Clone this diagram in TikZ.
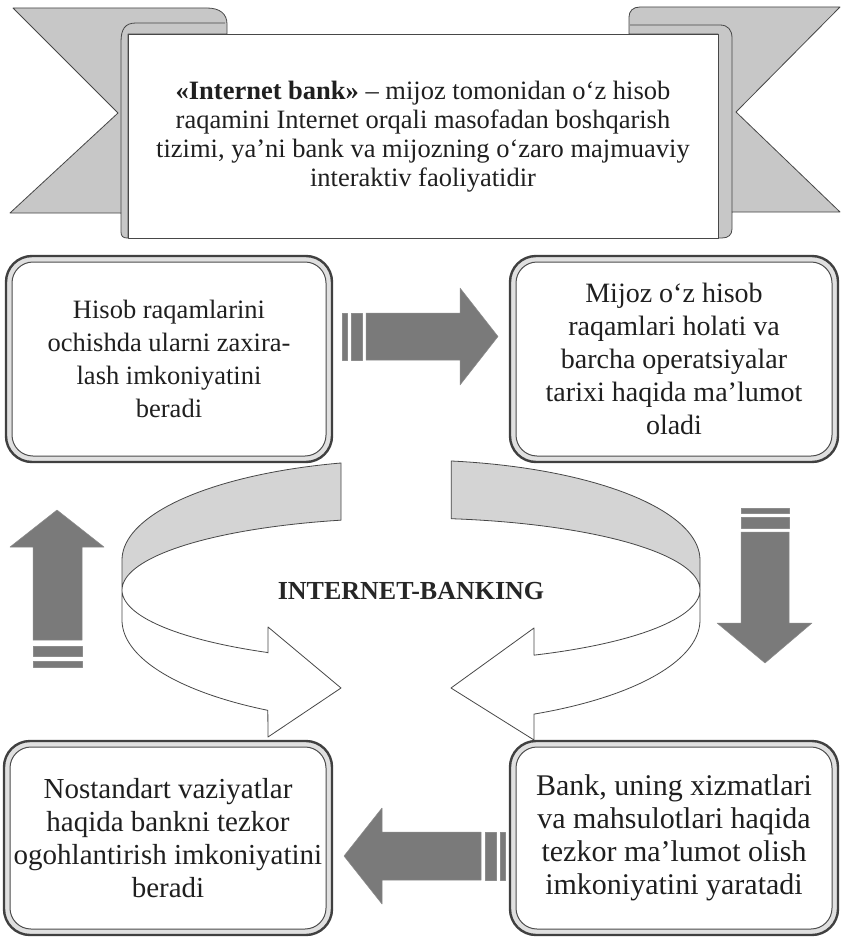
\documentclass[tikz,border=0pt]{standalone}
\usepackage{fontspec}
\setmainfont{Liberation Serif}
\begin{document}
\begin{tikzpicture}[x=1pt,y=-1pt,
  line join=round,
  ink/.style={draw=black!72,line width=0.8pt},
  tailgray/.style={ink,fill=black!22},
  bandgray/.style={ink,fill=black!17},
  blockarrow/.style={fill=black!52,draw=black!45,line width=0.5pt},
  boxtext/.style={align=center,text=black!88},
  bannertext/.style={align=center,text=black!88,font=\fontsize{26.5}{29}\selectfont}]

% canvas
\fill[white] (0,0) rectangle (842,939);
\useasboundingbox (0,0) rectangle (842,939);

% rounded panel with a double frame
\newcommand{\roundpanel}[4]{%
  \draw[line width=2.4pt,draw=black!75,fill=black!12,rounded corners=26pt] (#1,#2) rectangle (#3,#4);
  \draw[line width=1pt,draw=black!70,fill=white,rounded corners=21pt] ({#1+6},{#2+6}) rectangle ({#3-6},{#4-6});}

% ---------- banner ----------
% left tail with its roll and side fold
\filldraw[tailgray] (13,8) -- (207,8) .. controls (220,8) and (227,14) .. (227,24) -- (227,34)
  -- (128,34) -- (128,238) -- (127,238) .. controls (123,238) and (121,236) .. (121,232)
  -- (121,213) -- (10,213) -- (118,113) -- cycle;
\draw[ink] (121,213) -- (121,42) .. controls (121,29) and (125,23) .. (136,23) -- (225,23);
% right tail with its roll and side fold
\filldraw[tailgray] (629,34) -- (629,17) .. controls (629,11) and (633,7) .. (640,7) -- (840,7)
  -- (736,112) -- (840,212) -- (732,212) -- (732,229) .. controls (732,235) and (728,238) .. (722,238)
  -- (718,238) -- (718,34) -- cycle;
\draw[ink] (630,25) -- (720,25) .. controls (728,25) and (732,30) .. (732,38) -- (732,212);
% banner face
\filldraw[ink,fill=white] (128,34) rectangle (718,238);
\node[bannertext] (def) at (423,137) {{\bfseries «Internet bank»} – mijoz tomonidan o‘z hisob\\
  raqamini Internet orqali masofadan boshqarish\\
  tizimi, ya’ni bank va mijozning o‘zaro majmuaviy\\
  interaktiv faoliyatidir};

% ---------- four panels ----------
\roundpanel{6}{256}{332}{462}
\roundpanel{510}{256}{838}{462}
\roundpanel{4}{741}{332}{935}
\roundpanel{510}{741}{838}{935}

\node[boxtext,font=\fontsize{26.5}{33}\selectfont] (tl) at (169,359) {Hisob raqamlarini\\ochishda ularni zaxira-\\lash imkoniyatini\\beradi};
\node[boxtext,font=\fontsize{28}{33}\selectfont] (tr) at (674,359) {Mijoz o‘z hisob\\raqamlari holati va\\barcha operatsiyalar\\tarixi haqida ma’lumot\\oladi};
\node[boxtext,font=\fontsize{29}{33}\selectfont] (bl) at (168,838) {Nostandart vaziyatlar\\haqida bankni tezkor\\ogohlantirish imkoniyatini\\beradi};
\node[boxtext,font=\fontsize{30}{33}\selectfont] (br) at (674,838) {Bank, uning xizmatlari\\va mahsulotlari haqida\\tezkor ma’lumot olish\\imkoniyatini yaratadi};

% ---------- block arrows ----------
% right-pointing (top)
\fill[blockarrow] (342,313) rectangle (347,360);
\fill[blockarrow] (351,313) rectangle (362,360);
\filldraw[blockarrow] (366,313) -- (460,313) -- (460,288) -- (498,336.5) -- (460,385) -- (460,360) -- (366,360) -- cycle;
% left-pointing (bottom)
\fill[blockarrow] (500,832) rectangle (505,880);
\fill[blockarrow] (485,832) rectangle (496,880);
\filldraw[blockarrow] (481,832) -- (382,832) -- (382,808) -- (344,856) -- (382,904) -- (382,880) -- (481,880) -- cycle;
% upward (left)
\fill[blockarrow] (33,646) rectangle (82,656);
\fill[blockarrow] (33,661) rectangle (82,667);
\filldraw[blockarrow] (33,640) -- (33,547) -- (10,547) -- (57,510) -- (104,547) -- (82,547) -- (82,640) -- cycle;
% downward (right)
\fill[blockarrow] (741,508) rectangle (789,513);
\fill[blockarrow] (741,517) rectangle (789,528);
\filldraw[blockarrow] (741,532) -- (741,623) -- (717,623) -- (765,663) -- (812,623) -- (789,623) -- (789,532) -- cycle;

% ---------- circular arrows ----------
% back (shaded) halves of the ring
\filldraw[bandgray] plot[domain=256:180,samples=40] ({411+289*cos(\x)},{560+100*sin(\x)})
  -- plot[domain=180:256,samples=40] ({411+289*cos(\x)},{590+72*sin(\x)}) -- cycle;
\filldraw[bandgray] plot[domain=278:360,samples=40] ({411+289*cos(\x)},{560+100*sin(\x)})
  -- plot[domain=360:278,samples=40] ({411+289*cos(\x)},{590+72*sin(\x)}) -- cycle;
% front halves ending in arrow heads
\filldraw[ink,fill=white] plot[domain=180:119.7,samples=40] ({411+289*cos(\x)},{620+104*sin(\x)})
  -- (268,737) -- (341,688) -- (268,627) -- (268,653)
  -- plot[domain=119.7:180,samples=40] ({411+289*cos(\x)},{590+72*sin(\x)}) -- cycle;
\filldraw[ink,fill=white] plot[domain=0:64.8,samples=40] ({411+289*cos(\x)},{620+104*sin(\x)})
  -- (534,740) -- (451,688) -- (534,628) -- (534,655)
  -- plot[domain=64.8:0,samples=40] ({411+289*cos(\x)},{590+72*sin(\x)}) -- cycle;

\node[text=black!85,font=\fontsize{26}{28}\selectfont\bfseries] (hub) at (411,591) {INTERNET-BANKING};

\end{tikzpicture}
\end{document}
